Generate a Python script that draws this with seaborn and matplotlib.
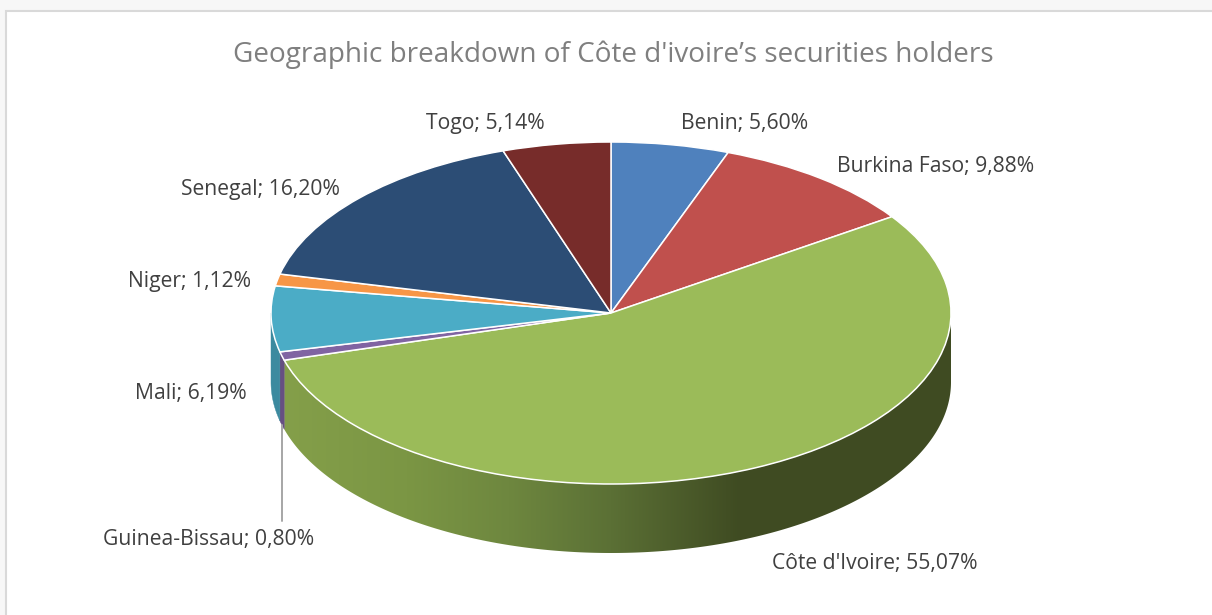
import matplotlib
matplotlib.use('Agg')
import matplotlib.pyplot as plt
from matplotlib.patches import Polygon, Rectangle
from matplotlib.lines import Line2D
from matplotlib.colors import to_rgb
import numpy as np
import seaborn as sns

W, H = 1212, 615

paises = ['Benin', 'Burkina Faso', "Côte d'Ivoire", 'Guinea-Bissau', 'Mali', 'Niger', 'Senegal', 'Togo']
valores = [5.60, 9.88, 55.07, 0.80, 6.19, 1.12, 16.20, 5.14]
titulo = "Geographic breakdown of Côte d'ivoire’s securities holders"

cores = ['#4f81bd', '#c0504d', '#9bbb59', '#8064a2', '#4bacc6', '#f79646', '#2c4d75', '#772c2a']
cores_lado = ['#3f6797', '#9a403e', '#7c9647', '#664f82', '#3c8a9f', '#c67838', '#233d5d', '#5f2322']

# centro dos rotulos em pixels da imagem
pos_rotulos = [(744.5, 124), (936, 167), (874.5, 564), (209, 539),
               (191, 393), (189.5, 281), (260, 189), (485.5, 124)]

# degrade do lado verde: posicao x (-1 a 1) e cor
grad_x = [-1.0, -0.6, -0.3, 0.0, 0.38, 1.0]
grad_cor = ['#85a04a', '#7b9644', '#6e873f', '#5b7035', '#3f4b22', '#3f4b22']

sns.set_theme(style='white')
plt.rcParams['font.family'] = ['Open Sans', 'DejaVu Sans']

fig = plt.figure(figsize=(W / 100, H / 100), dpi=100, facecolor='#f7f7f7')

# quadro do grafico
fig.add_artist(Rectangle((6 / W, -0.1), 1.1, 1.1 - 11 / H, transform=fig.transFigure,
                         facecolor='white', edgecolor='#d9d9d9', linewidth=1.5, zorder=-1))

cx, cy, rx, ry, prof = 611, 313, 340, 171, 69
ax = fig.add_axes([(cx - rx) / W, 1 - (cy + ry) / H, 2 * rx / W, 2 * ry / H])
ax.patch.set_alpha(0)
profundidade = prof / ry

rgb = np.array([to_rgb(c) for c in grad_cor])
xg = np.linspace(-1, 1, 680)
faixa = np.stack([np.interp(xg, grad_x, rgb[:, i]) for i in range(3)], axis=-1)[np.newaxis, :, :]

# lado do disco: so a parte da frente (90 a 270 graus, sentido horario)
acum = np.cumsum([0] + valores) * 3.6
for i, nome in enumerate(paises):
  ini, fim = max(acum[i], 90), min(acum[i + 1], 270)
  if ini >= fim:
    continue
  t = np.radians(np.linspace(ini, fim, max(int(fim - ini) * 3, 6)))
  xs, ys = np.sin(t), np.cos(t)
  contorno = np.r_[np.c_[xs, ys], np.c_[xs, ys - profundidade][::-1]]
  if nome == "Côte d'Ivoire":
    forma = Polygon(contorno, closed=True, facecolor='none', edgecolor='none', clip_on=False)
    ax.add_patch(forma)
    img = ax.imshow(faixa, extent=(-1, 1, -1 - profundidade, 1), aspect='auto', zorder=0)
    # sem isso a imagem fica cortada no limite do eixo
    img.set_clip_box(fig.bbox)
    img.set_clip_path(forma)
  else:
    ax.add_patch(Polygon(contorno, closed=True, facecolor=cores_lado[i], edgecolor=cores_lado[i],
                         linewidth=0.3, clip_on=False, zorder=0))

ax.pie(valores, colors=sns.color_palette(cores), startangle=90, counterclock=False, radius=1,
       wedgeprops=dict(edgecolor='white', linewidth=1.1, clip_on=False, zorder=2))
ax.set_aspect('auto')
ax.set_xlim(-1, 1)
ax.set_ylim(-1, 1)
ax.axis('off')

# linha guia da Guinea-Bissau
fig.add_artist(Line2D([282 / W, 282 / W], [1 - 425 / H, 1 - 521 / H], color='#a6a6a6', linewidth=1.4))

for nome, v, (px, py) in zip(paises, valores, pos_rotulos):
  rotulo = f'{nome}; {v:.2f}%'.replace('.', ',')
  fig.text(px / W, 1 - py / H, rotulo, ha='center', va='center', fontsize=15.2, color='#404040')

fig.text(613.5 / W, 1 - 55 / H, titulo, ha='center', va='center', fontsize=20.1, color='#7f7f7f')

fig.savefig('out.png', dpi=100, facecolor=fig.get_facecolor())
